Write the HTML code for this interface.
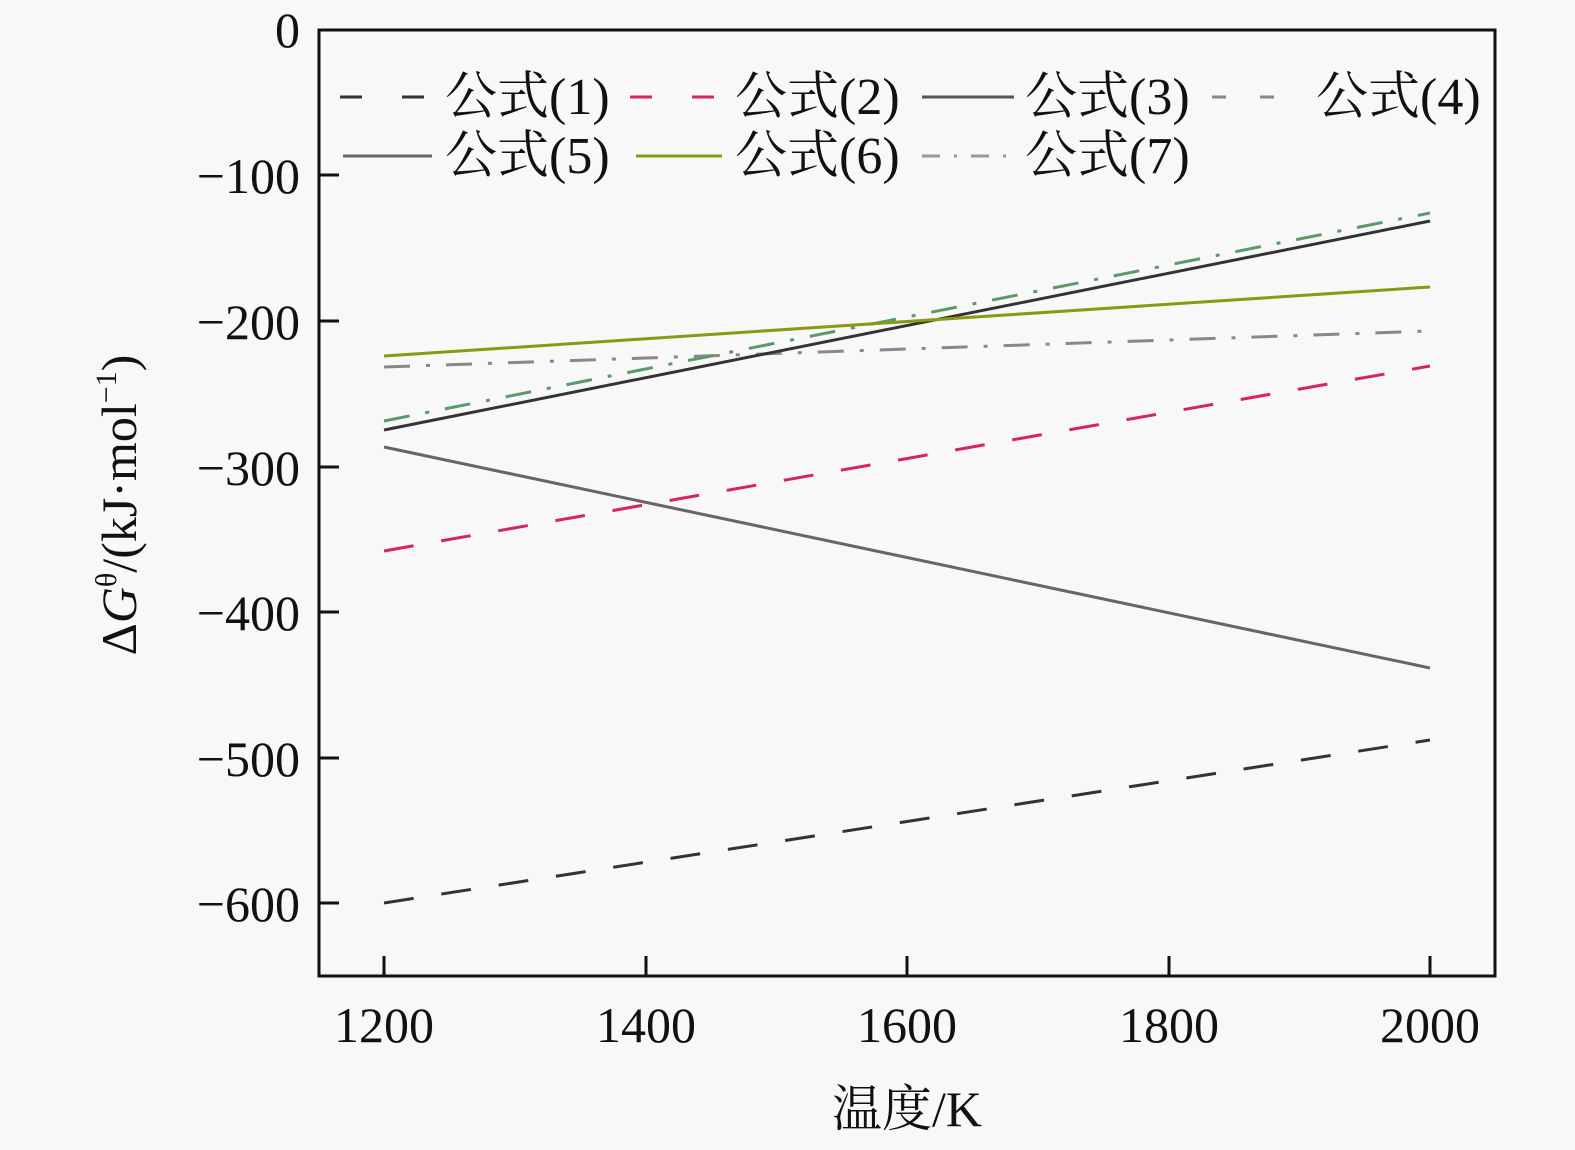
<!DOCTYPE html>
<html><head><meta charset="utf-8"><style>
html,body{margin:0;padding:0;background:#f8f8f8;}
svg{display:block;}
text{font-family:"Liberation Serif","Noto Serif CJK SC",serif;fill:#111;}
</style></head><body>
<svg width="1575" height="1150" viewBox="0 0 1575 1150" xmlns="http://www.w3.org/2000/svg">
<rect width="1575" height="1150" fill="#f8f8f8"/>
<rect x="319" y="30" width="1176" height="946" fill="none" stroke="#111" stroke-width="3"/>
<g stroke="#111" stroke-width="3">
<line x1="319" y1="175" x2="339" y2="175"/>
<line x1="319" y1="321" x2="339" y2="321"/>
<line x1="319" y1="467" x2="339" y2="467"/>
<line x1="319" y1="612" x2="339" y2="612"/>
<line x1="319" y1="758" x2="339" y2="758"/>
<line x1="319" y1="903" x2="339" y2="903"/>
<line x1="384" y1="976" x2="384" y2="956"/>
<line x1="646" y1="976" x2="646" y2="956"/>
<line x1="907" y1="976" x2="907" y2="956"/>
<line x1="1169" y1="976" x2="1169" y2="956"/>
<line x1="1430" y1="976" x2="1430" y2="956"/>
</g>
<g font-size="50" text-anchor="end">
<text x="300" y="47">0</text>
<text x="300" y="193">−100</text>
<text x="300" y="339">−200</text>
<text x="300" y="485">−300</text>
<text x="300" y="630">−400</text>
<text x="300" y="776">−500</text>
<text x="300" y="921">−600</text>
</g>
<g font-size="50" text-anchor="middle">
<text x="384" y="1042">1200</text>
<text x="646" y="1042">1400</text>
<text x="907" y="1042">1600</text>
<text x="1169" y="1042">1800</text>
<text x="1430" y="1042">2000</text>
<text x="907" y="1126">温度/K</text>
</g>
<text transform="translate(136,505) rotate(-90)" font-size="50" text-anchor="middle">Δ<tspan font-style="italic">G</tspan><tspan font-size="30" dy="-20">θ</tspan><tspan dy="20">/(kJ·mol</tspan><tspan font-size="30" dy="-20">−1</tspan><tspan dy="20">)</tspan></text>
<line x1="384" y1="903" x2="1430" y2="740" stroke="#333" stroke-width="3" stroke-dasharray="30,28"/>
<line x1="384" y1="551" x2="1430" y2="366" stroke="#d8245c" stroke-width="3" stroke-dasharray="30,28"/>
<line x1="384" y1="447" x2="1430" y2="668" stroke="#666" stroke-width="3"/>
<line x1="384" y1="367" x2="1430" y2="331" stroke="#888" stroke-width="3" stroke-dasharray="26,16,4,16"/>
<line x1="384" y1="421" x2="1430" y2="213" stroke="#5a9a6a" stroke-width="3" stroke-dasharray="26,16,4,16"/>
<line x1="384" y1="430" x2="1430" y2="221" stroke="#333" stroke-width="3"/>
<line x1="384" y1="356" x2="1430" y2="287" stroke="#8a9a10" stroke-width="3"/>
<g stroke-width="3">
<line x1="340" y1="97" x2="432" y2="97" stroke="#333" stroke-dasharray="22,40"/>
<line x1="630" y1="97" x2="722" y2="97" stroke="#d8245c" stroke-dasharray="22,40"/>
<line x1="922" y1="97" x2="1014" y2="97" stroke="#555"/>
<line x1="1212" y1="97" x2="1304" y2="97" stroke="#888" stroke-dasharray="14,34"/>
<line x1="343" y1="156" x2="432" y2="156" stroke="#666"/>
<line x1="636" y1="156" x2="722" y2="156" stroke="#8a9a10"/>
<line x1="922" y1="156" x2="1014" y2="156" stroke="#999" stroke-dasharray="18,14,3,14"/>
</g>
<g font-size="52">
<text x="445" y="114">公式(1)</text>
<text x="735" y="114">公式(2)</text>
<text x="1025" y="114">公式(3)</text>
<text x="1316" y="114">公式(4)</text>
<text x="445" y="173">公式(5)</text>
<text x="735" y="173">公式(6)</text>
<text x="1025" y="173">公式(7)</text>
</g>
</svg>
</body></html>
